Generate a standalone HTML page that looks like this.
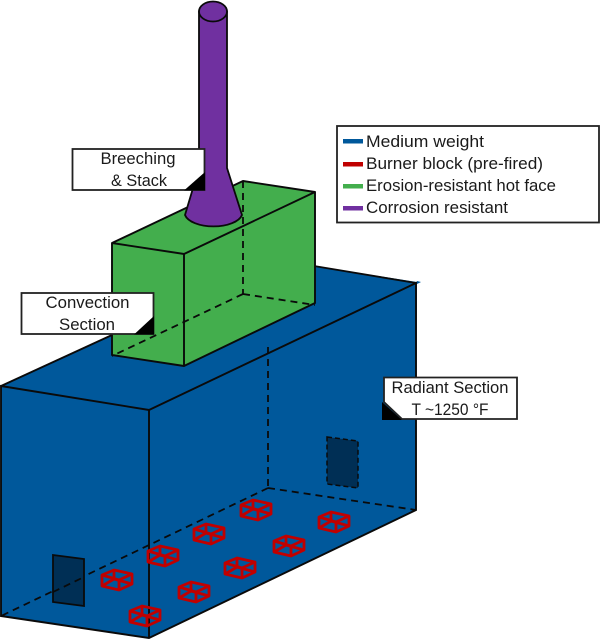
<!DOCTYPE html>
<html><head><meta charset="utf-8"><style>
html,body{margin:0;padding:0;background:#fff}
svg{display:block}
text{font-family:"Liberation Sans",sans-serif;fill:#1a1a1a;font-size:17px}
</style></head><body>
<svg width="600" height="639" viewBox="0 0 600 639" xmlns="http://www.w3.org/2000/svg">
<defs>
<g id="b" fill="none" stroke="#c00000" stroke-width="2.8" stroke-linejoin="round">
<path d="M-15,-5 L-3,-10 L15,-6 L15,4 L2,10 L-15,6 Z"/>
<path d="M-15,-5 L2,0 L15,-6 M2,0 L2,10 M-3,-10 L-3,-1 M-15,6 L-3,-1 L15,4"/>
</g>
</defs>
<!-- blue box -->
<polygon points="1,386 112,335 314,266 417,282 416,510 149,638 1,616" fill="#00589b"/>
<polygon points="417,281 421,282 417,284" fill="#00589b"/>
<g fill="none" stroke="#0a0a0a" stroke-width="1.9">
<path d="M1,386 L149,410 L416,283 L416,510 L149,638 L1,616 Z"/>
<path d="M149,410 L149,638"/>
<path d="M1,386 L112,335"/>
<path d="M314,266 L416,283"/>
</g>
<g fill="none" stroke="#0a0a0a" stroke-width="1.8" stroke-dasharray="7 5">
<path d="M268,347 L268,488"/>
<path d="M268,488 L1,616"/>
<path d="M268,488 L416,510"/>
</g>
<!-- doors -->
<polygon points="53,555 84,559 84,606 53,602" fill="#002f55" stroke="#0a0a0a" stroke-width="1.8"/>
<path d="M53,592 L84,577" stroke="#0a0a0a" stroke-width="1.8" stroke-dasharray="7 5" fill="none"/>
<polygon points="327,437 358,441 358,488 327,484" fill="#002f55" stroke="#0a0a0a" stroke-width="1.5" stroke-dasharray="5 3"/>
<!-- burners -->
<use href="#b" x="256" y="510"/>
<use href="#b" x="209" y="534"/>
<use href="#b" x="163" y="556"/>
<use href="#b" x="117" y="580"/>
<use href="#b" x="334" y="522"/>
<use href="#b" x="289" y="546"/>
<use href="#b" x="240" y="568"/>
<use href="#b" x="194" y="592"/>
<use href="#b" x="145" y="616"/>
<!-- green box -->
<polygon points="112,243 243,181 315,192 315,303 184,366 112,355" fill="#43ae4d" stroke="#0a0a0a" stroke-width="1.9" stroke-linejoin="round"/>
<g fill="none" stroke="#0a0a0a" stroke-width="1.9">
<path d="M112,243 L184,254 L315,192"/>
<path d="M184,254 L184,366"/>
</g>
<g fill="none" stroke="#0a0a0a" stroke-width="1.8" stroke-dasharray="7 5">
<path d="M243,181 L243,294"/>
<path d="M243,294 L112,356"/>
<path d="M243,294 L315,305"/>
</g>
<!-- stack -->
<path d="M199,11 L199,168 L185,215 A29,14 0 0 0 242,215 L227,168 L227,11 Z" fill="#7030a0" stroke="#0a0a0a" stroke-width="1.8" stroke-linejoin="round"/>
<ellipse cx="213" cy="11.5" rx="14" ry="10" fill="#7030a0" stroke="#0a0a0a" stroke-width="1.8"/>
<!-- labels -->
<rect x="72.500" y="149" width="132" height="41" fill="#fff" stroke="#222" stroke-width="1.8"/>
<polygon points="184,190.500 205,172 205,190.500" fill="#000"/>
<text x="138" y="164" text-anchor="middle" textLength="75" lengthAdjust="spacingAndGlyphs">Breeching</text>
<text x="139" y="186" text-anchor="middle" textLength="56" lengthAdjust="spacingAndGlyphs">&amp; Stack</text>
<rect x="21.500" y="293" width="132" height="41" fill="#fff" stroke="#222" stroke-width="1.8"/>
<polygon points="134,334.500 154,316 154,334.500" fill="#000"/>
<text x="87.500" y="308" text-anchor="middle" textLength="84" lengthAdjust="spacingAndGlyphs">Convection</text>
<text x="87" y="330" text-anchor="middle" textLength="56" lengthAdjust="spacingAndGlyphs">Section</text>
<polygon points="382,402 402,420 382,420" fill="#000"/>
<polygon points="384,377.500 517,377.500 517,419 402,419 384,402" fill="#fff" stroke="#222" stroke-width="1.8"/>
<text x="450" y="393" text-anchor="middle" textLength="117" lengthAdjust="spacingAndGlyphs">Radiant Section</text>
<text x="450" y="415" text-anchor="middle" textLength="77" lengthAdjust="spacingAndGlyphs">T ~1250 °F</text>
<!-- legend -->
<rect x="337" y="126" width="262" height="96.500" fill="#fff" stroke="#222" stroke-width="1.8"/>
<rect x="343" y="139" width="20" height="4.500" fill="#00589b"/>
<rect x="343" y="162" width="20" height="4.500" fill="#c00000"/>
<rect x="343" y="184" width="20" height="4.500" fill="#43ae4d"/>
<rect x="343" y="206" width="20" height="4.500" fill="#7030a0"/>
<text x="366" y="147" textLength="118" lengthAdjust="spacingAndGlyphs">Medium weight</text>
<text x="366" y="169" textLength="177" lengthAdjust="spacingAndGlyphs">Burner block (pre-fired)</text>
<text x="366" y="191" textLength="190" lengthAdjust="spacingAndGlyphs">Erosion-resistant hot face</text>
<text x="366" y="213" textLength="142" lengthAdjust="spacingAndGlyphs">Corrosion resistant</text>
</svg>
</body></html>
